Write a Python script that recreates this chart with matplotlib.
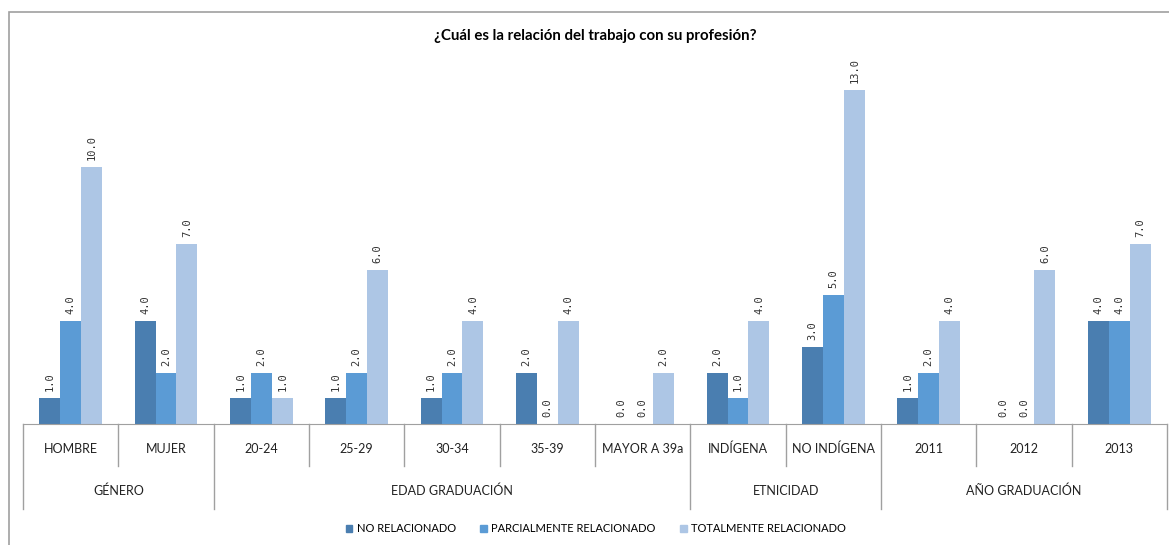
import matplotlib.pyplot as plt
import matplotlib.patches as mpatches
from matplotlib.lines import Line2D
import numpy as np

categories = ["HOMBRE", "MUJER", "20-24", "25-29", "30-34", "35-39", "MAYOR A 39a",
              "INDÍGENA", "NO INDÍGENA", "2011", "2012", "2013"]
groups = ["GÉNERO", "EDAD GRADUACIÓN", "ETNICIDAD", "AÑO GRADUACIÓN"]
group_sizes = [2, 5, 2, 3]

no_relacionado = [1, 4, 1, 1, 1, 2, 0, 2, 3, 1, 0, 4]
parcialmente = [4, 2, 2, 2, 2, 0, 0, 1, 5, 2, 0, 4]
totalmente = [10, 7, 1, 6, 4, 4, 2, 4, 13, 4, 6, 7]

series_names = ["NO RELACIONADO", "PARCIALMENTE RELACIONADO", "TOTALMENTE RELACIONADO"]
colors = ["#4a7eb0", "#5b9bd5", "#adc6e5"]

plt.rcParams['font.family'] = ['Lato', 'DejaVu Sans']

fig = plt.figure(figsize=(11.69, 5.45), dpi=100)
fig.patches.append(mpatches.Rectangle((9 / 1169, -0.1), 1.2, 1 - 12.5 / 545 + 0.1,
                                      transform=fig.transFigure, fill=False,
                                      edgecolor="#a0a0a0", linewidth=1.2))
ax = fig.add_axes([23 / 1169, 121 / 545, 1144 / 1169, 360 / 545])

x = np.arange(len(categories))
w = 0.22
for i, (vals, c) in enumerate(zip([no_relacionado, parcialmente, totalmente], colors)):
    pos = x + (i - 1) * w
    ax.bar(pos, vals, width=w, color=c, edgecolor="none")
    for px, v in zip(pos, vals):
        ax.annotate(f"{v:.1f}", (px, v), xytext=(0, 5), textcoords="offset points",
                    rotation=90, ha="center", va="bottom", fontsize=7.5,
                    family="DejaVu Sans Mono", color="#333333")

ax.set_xlim(-0.5, len(categories) - 0.5)
ax.set_ylim(0, 14)
for s in ["top", "right", "left"]:
    ax.spines[s].set_visible(False)
ax.spines["bottom"].set_color("#a0a0a0")
ax.set_yticks([])
ax.set_xticks([])

line_kw = dict(color="#a0a0a0", linewidth=1, clip_on=False)
tr = ax.get_xaxis_transform()
# category labels and short separators
for i, name in enumerate(categories):
    ax.text(i, -0.07, name, transform=tr, ha="center", va="center",
            fontsize=9, color="#222222")
bounds = np.cumsum([0] + group_sizes)
for b in range(len(categories) + 1):
    depth = -0.236 if b in bounds else -0.117
    ax.add_line(Line2D([b - 0.5, b - 0.5], [0, depth], transform=tr, **line_kw))
# group labels
for g, start, size in zip(groups, bounds[:-1], group_sizes):
    ax.text(start + size / 2 - 0.5, -0.186, g, transform=tr, ha="center",
            va="center", fontsize=9, color="#222222")

fig.text(595 / 1169, 1 - 36 / 545, "¿Cuál es la relación del trabajo con su profesión?",
         ha="center", va="center", fontsize=10.8, fontweight="bold")

handles = [mpatches.Patch(color=c) for c in colors]
fig.legend(handles, series_names, loc="center", bbox_to_anchor=(596 / 1169, 1 - 529 / 545),
           ncol=3, frameon=False, fontsize=8, handlelength=0.6, handleheight=0.6,
           handletextpad=0.4, columnspacing=2.2)

fig.savefig("out.png", dpi=100)
